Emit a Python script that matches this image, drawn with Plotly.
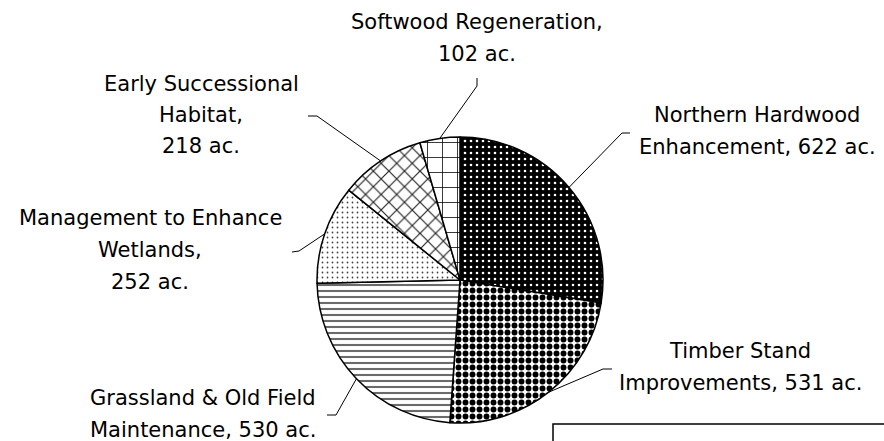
import math
import plotly.graph_objects as go

# ---- data ----
categories = [
    "Northern Hardwood Enhancement",
    "Timber Stand Improvements",
    "Grassland & Old Field Maintenance",
    "Management to Enhance Wetlands",
    "Early Successional Habitat",
    "Softwood Regeneration",
]
acres = [622, 531, 530, 252, 218, 102]
# number of words on each printed line of the label
label_word_split = [[2, 3], [2, 3], [4, 3], [3, 1, 2], [2, 1, 2], [2, 2]]

# ---- styling ----
pat_shape = [".", ".", "-", ".", "x", "+"]
pat_bg = ["black", "white", "white", "white", "white", "white"]
pat_fg = ["white", "black", "#6a6a6a", "#444444", "#222222", "black"]
pat_size = [6, 7, 6, 5, 11, 15]
pat_sol = [0.15, 0.55, 0.35, 0.1, 0.2, 0.1]

W, H = 884, 441
cx, cy, R = 460, 280, 143  # pie centre / radius in pixels

# label block centre (px), line spacing, leader elbow points (px)
label_pos = [(757, 131), (740, 367), (203, 414), (150, 250), (201, 115), (477, 38)]
line_gap = 31.5
elbows = [
    [(630, 133), (622, 133)],
    [(612, 369), (603, 369)],
    [(327, 415), (336, 415)],
    [(292, 252), (299, 251)],
    [(308, 116), (317, 116)],
    [(477, 78), (477, 86)],
]

fig = go.Figure(
    go.Pie(
        labels=categories,
        values=acres,
        sort=False,
        direction="clockwise",
        rotation=0,
        textinfo="none",
        hoverinfo="label+value",
        showlegend=False,
        domain=dict(x=[(cx - R) / W, (cx + R) / W], y=[1 - (cy + R) / H, 1 - (cy - R) / H]),
        marker=dict(
            colors=pat_bg,
            line=dict(color="black", width=1.5),
            pattern=dict(
                shape=pat_shape,
                bgcolor=pat_bg,
                fgcolor=pat_fg,
                size=pat_size,
                solidity=pat_sol,
                fillmode="replace",
            ),
        ),
    )
)

total = sum(acres)
cum = 0
annotations = []
shapes = []
for i, (cat, v) in enumerate(zip(categories, acres)):
    mid = (cum + v / 2) / total * 2 * math.pi
    cum += v
    ax_px = cx + R * math.sin(mid)
    ay_px = cy - R * math.cos(mid)
    # label lines
    words = f"{cat}, {v} ac.".split(" ")
    lines = []
    k = 0
    for n in label_word_split[i]:
        lines.append(" ".join(words[k:k + n]))
        k += n
    lx, ly = label_pos[i]
    n_lines = len(lines)
    for j, t in enumerate(lines):
        yy = ly + (j - (n_lines - 1) / 2) * line_gap
        annotations.append(dict(
            x=lx / W, y=1 - yy / H, xref="paper", yref="paper",
            text=t, showarrow=False, xanchor="center", yanchor="middle",
            font=dict(family="DejaVu Sans", size=21, color="black"),
        ))
    # leader line
    (x1, y1), (x2, y2) = elbows[i]
    path = (f"M {x1 / W} {1 - y1 / H} L {x2 / W} {1 - y2 / H} "
            f"L {ax_px / W} {1 - ay_px / H}")
    shapes.append(dict(type="path", path=path, xref="paper", yref="paper",
                       line=dict(color="black", width=1)))

# box at lower right (partially visible)
shapes.append(dict(type="rect", xref="paper", yref="paper",
                   x0=553 / W, x1=1.05, y0=-0.2, y1=1 - 424 / H,
                   line=dict(color="black", width=1.5)))

fig.update_layout(
    width=W, height=H,
    margin=dict(l=0, r=0, t=0, b=0),
    paper_bgcolor="white", plot_bgcolor="white",
    annotations=annotations,
    shapes=shapes,
)

fig.write_html("out.html", config={"displayModeBar": False},
               post_script="document.body.style.margin='0';")
